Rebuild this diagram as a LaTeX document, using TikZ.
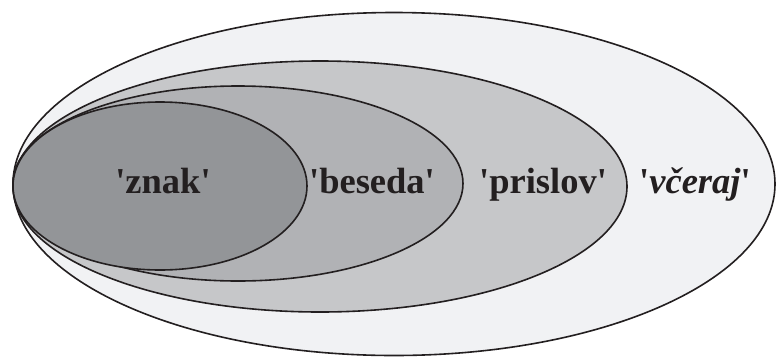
\documentclass[tikz,border=0pt]{standalone}
\usepackage{fontspec}
\setmainfont{Liberation Serif}
\definecolor{cOuter}{RGB}{241,242,244}
\definecolor{cThird}{RGB}{198,199,201}
\definecolor{cSecond}{RGB}{177,178,181}
\definecolor{cInner}{RGB}{147,149,152}
\definecolor{ink}{RGB}{35,31,32}
\newcommand\qq{\textquotesingle}
\begin{document}
\begin{tikzpicture}[x=1pt,y=-1pt,
  ell/.style={draw=ink,line width=1.6pt},
  lbl/.style={text=ink,font=\fontsize{36.5}{40}\selectfont\bfseries,inner sep=0pt,anchor=base}]
\useasboundingbox (0,0) rectangle (777,357);
\fill[white] (0,0) rectangle (777,357);
\draw[ell,fill=cOuter] (394,184) ellipse [x radius=381, y radius=171.5];
\draw[ell,fill=cThird] (320,186.5) ellipse [x radius=307, y radius=125.5];
\draw[ell,fill=cSecond] (238,183.5) ellipse [x radius=225, y radius=97.5];
\draw[ell,fill=cInner] (160,186) ellipse [x radius=147, y radius=84];
\node[lbl] (znak) at (163,193) {\qq znak\qq};
\node[lbl] (beseda) at (372,193) {\qq beseda\qq};
\node[lbl] (prislov) at (543,193) {\qq prislov\qq};
\node[lbl] (vceraj) at (695,193) {\qq\textit{včeraj}\qq};
\end{tikzpicture}
\end{document}
